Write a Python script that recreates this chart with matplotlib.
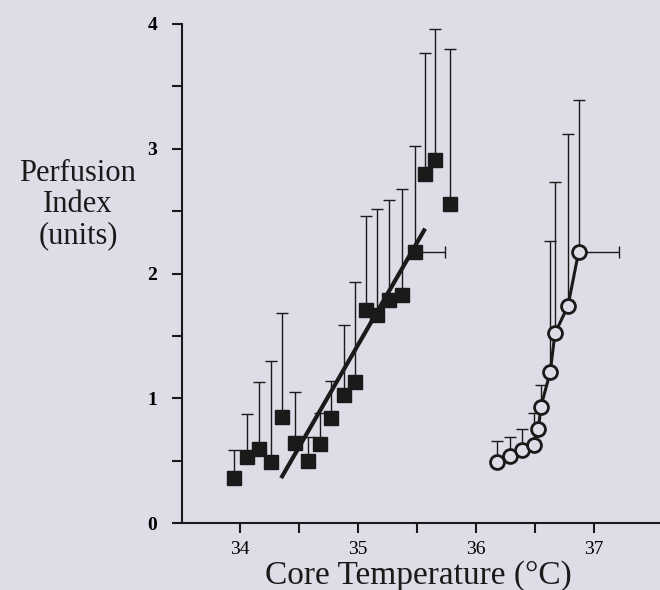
import matplotlib
matplotlib.use("Agg")
import matplotlib.pyplot as plt
import numpy as np
from matplotlib.ticker import MultipleLocator, FixedLocator

# squares (filled) - core temp vs perfusion index, upper error only
sq_temp = [33.95, 34.06, 34.16, 34.26, 34.36, 34.47, 34.58, 34.68, 34.77, 34.88,
           34.98, 35.07, 35.16, 35.26, 35.37, 35.48, 35.57, 35.65, 35.78]
sq_pi = [0.36, 0.53, 0.59, 0.49, 0.85, 0.64, 0.50, 0.63, 0.84, 1.03,
         1.13, 1.71, 1.67, 1.79, 1.83, 2.17, 2.80, 2.91, 2.56]
sq_top = [0.585, 0.87, 1.13, 1.30, 1.68, 1.05, 0.69, 0.88, 1.14, 1.59,
          1.93, 2.46, 2.52, 2.59, 2.68, 3.02, 3.77, 3.96, 3.80]
sq_xerr = [0, 0, 0, 0, 0, 0, 0, 0, 0, 0, 0, 0, 0, 0, 0, 0.26, 0, 0, 0]

# regression line through the squares
fit_temp = [34.35, 35.57]
fit_pi = [0.36, 2.36]

# circles (open)
c_temp = [36.18, 36.29, 36.39, 36.49, 36.53, 36.55, 36.63, 36.67, 36.78, 36.87]
c_pi = [0.49, 0.54, 0.585, 0.625, 0.75, 0.93, 1.21, 1.52, 1.74, 2.17]
c_top = [0.66, 0.69, 0.75, 0.88, 0.75, 1.11, 2.26, 2.73, 3.12, 3.39]
c_xerr = [0, 0, 0, 0, 0, 0, 0, 0, 0, 0.34]

x_major = [34, 35, 36, 37]
x_minor = [34.5, 35.5, 36.5]

bg = "#dcdde6"
ink = "#1a1a1a"

plt.rcParams["font.family"] = ["Liberation Serif", "DejaVu Serif"]

fig = plt.figure(figsize=(6.6, 5.9), dpi=100, facecolor=bg)
ax = fig.add_axes([182/660, 1-523/590, 1-182/660, (523-24)/590])
ax.set_facecolor(bg)

sq_temp = np.array(sq_temp); sq_pi = np.array(sq_pi)
c_temp = np.array(c_temp); c_pi = np.array(c_pi)

def up_err(top, val):
    d = np.array(top) - val
    return [np.zeros_like(d), d]

def right_err(xe):
    xe = np.array(xe, dtype=float)
    return [np.zeros_like(xe), xe]

# error bars
ax.errorbar(sq_temp, sq_pi, yerr=up_err(sq_top, sq_pi), xerr=right_err(sq_xerr),
            fmt="none", ecolor=ink, elinewidth=1.0, capsize=4, capthick=1.0, zorder=1)
ax.errorbar(c_temp, c_pi, yerr=up_err(c_top, c_pi), xerr=right_err(c_xerr),
            fmt="none", ecolor=ink, elinewidth=1.0, capsize=4, capthick=1.0, zorder=1)

ax.plot(fit_temp, fit_pi, color=ink, lw=3, solid_capstyle="butt", zorder=2)
ax.plot(sq_temp, sq_pi, "s", color=ink, ms=10, zorder=3)
ax.plot(c_temp, c_pi, "-o", color=ink, lw=2.2, ms=10, mfc=bg, mec=ink, mew=2, zorder=3)

ax.set_xlim(33.51, 37.56)
ax.set_ylim(0, 4)
ax.xaxis.set_major_locator(FixedLocator(x_major))
ax.xaxis.set_minor_locator(FixedLocator(x_minor))
ax.yaxis.set_major_locator(MultipleLocator(1))
ax.yaxis.set_minor_locator(MultipleLocator(0.5))
ax.tick_params(which="both", direction="out", length=7, width=1.5, color=ink)
ax.tick_params(axis="x", labelsize=14, pad=6)
ax.tick_params(axis="y", labelsize=14, pad=11)
for t in ax.get_yticklabels():
    t.set_fontweight("bold")
ax.spines["top"].set_visible(False)
ax.spines["right"].set_visible(False)
ax.spines["left"].set_linewidth(1.5)
ax.spines["bottom"].set_linewidth(1.5)
ax.spines["left"].set_color(ink)
ax.spines["bottom"].set_color(ink)

fig.text(418/660, 1-584/590, "Core Temperature (\u00b0C)", fontsize=24,
         ha="center", va="baseline", color=ink)
fig.text(78/660, 1-205/590, "Perfusion\nIndex\n(units)", fontsize=22,
         ha="center", va="center", color=ink, linespacing=1.1)

fig.savefig("out.png", dpi=100, facecolor=bg)
